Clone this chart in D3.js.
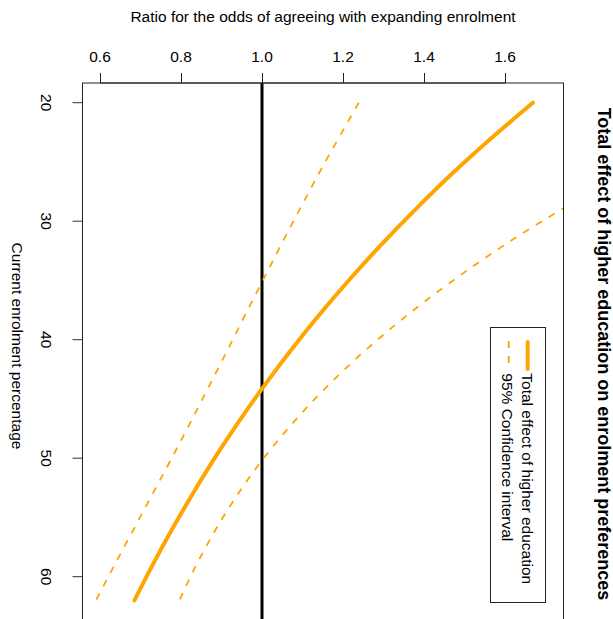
<!DOCTYPE html>
<html>
<head>
<meta charset="utf-8">
<script src="https://cdn.jsdelivr.net/npm/d3@7"></script>
<style>
  html, body { margin: 0; padding: 0; background: #fff; }
  svg { display: block; }
  text { font-family: "Liberation Sans", Arial, Helvetica, sans-serif; fill: #000; }
</style>
</head>
<body>
<svg id="chart" width="613" height="619"></svg>
<script>
// Current enrolment percentage (vertical axis)
const enrolment = [20, 23, 26, 29, 32, 35, 38, 41, 44, 47, 50, 53, 56, 59, 62];
// Estimated odds ratio: total effect of higher education
const effect = [1.669, 1.566, 1.469, 1.379, 1.294, 1.214, 1.139, 1.069, 1.003, 0.941, 0.883, 0.829, 0.778, 0.730, 0.685];
// 95% confidence bounds
const ciLower = [1.239, 1.189, 1.140, 1.093, 1.047, 1.002, 0.957, 0.913, 0.868, 0.823, 0.777, 0.730, 0.683, 0.636, 0.590];
const ciUpper = [2.248, 2.063, 1.894, 1.740, 1.599, 1.472, 1.356, 1.252, 1.159, 1.077, 1.004, 0.941, 0.886, 0.838, 0.796];
// Axis ticks
const ratioTicks = [0.6, 0.8, 1.0, 1.2, 1.4, 1.6];
const enrolTicks = [20, 30, 40, 50, 60];
// Reference line (no effect)
const noEffect = 1.0;
// Legend entries
const legendLabels = ["Total effect of higher education", "95% Confidence interval"];

const ORANGE = "#FFA500";
const FONT = "15.5px";
const svg = d3.select("#chart");

// Plot region
const box = { left: 82.5, right: 563.5, top: 83, bottom: 660 };

const x = d3.scaleLinear().domain([0.6, 1.6]).range([100, 505]);
const y = d3.scaleLinear().domain([20, 60]).range([102.7, 576.7]);

svg.append("defs").append("clipPath").attr("id", "plotClip")
  .append("rect")
  .attr("x", box.left).attr("y", box.top)
  .attr("width", box.right - box.left).attr("height", box.bottom - box.top);

const plot = svg.append("g").attr("clip-path", "url(#plotClip)");

// No-effect reference line
plot.append("line")
  .attr("x1", x(noEffect)).attr("x2", x(noEffect))
  .attr("y1", box.top).attr("y2", box.bottom)
  .attr("stroke", "#000").attr("stroke-width", 3);

const rows = enrolment.map((e, i) => ({ e, est: effect[i], lo: ciLower[i], hi: ciUpper[i] }));

const lineFor = key => d3.line()
  .x(d => x(d[key]))
  .y(d => y(d.e))
  .curve(d3.curveMonotoneY);

// Confidence interval
["lo", "hi"].forEach(k => {
  plot.append("path")
    .datum(rows)
    .attr("d", lineFor(k))
    .attr("fill", "none")
    .attr("stroke", ORANGE)
    .attr("stroke-width", 1.8)
    .attr("stroke-dasharray", "7,8");
});

// Estimated effect
plot.append("path")
  .datum(rows)
  .attr("d", lineFor("est"))
  .attr("fill", "none")
  .attr("stroke", ORANGE)
  .attr("stroke-width", 4)
  .attr("stroke-linecap", "round");

// Plot frame
svg.append("rect")
  .attr("x", box.left).attr("y", box.top)
  .attr("width", box.right - box.left).attr("height", box.bottom - box.top)
  .attr("fill", "none").attr("stroke", "#222").attr("stroke-width", 1);

// Top axis (odds ratio)
const topAxis = svg.append("g");
topAxis.append("line")
  .attr("x1", x(ratioTicks[0])).attr("x2", x(ratioTicks[ratioTicks.length - 1]))
  .attr("y1", box.top).attr("y2", box.top)
  .attr("stroke", "#222").attr("stroke-width", 1.2);
topAxis.selectAll("line.tick").data(ratioTicks).join("line")
  .attr("class", "tick")
  .attr("x1", d => Math.round(x(d)) + 0.5).attr("x2", d => Math.round(x(d)) + 0.5)
  .attr("y1", box.top).attr("y2", box.top - 10)
  .attr("stroke", "#222");
topAxis.selectAll("text").data(ratioTicks).join("text")
  .attr("x", d => x(d)).attr("y", 61.7)
  .attr("text-anchor", "middle")
  .style("font-size", FONT)
  .text(d3.format(".1f"));

svg.append("text")
  .attr("x", (box.left + box.right) / 2).attr("y", 22)
  .attr("text-anchor", "middle")
  .style("font-size", FONT)
  .text("Ratio for the odds of agreeing with expanding enrolment");

// Left axis (enrolment)
const leftAxis = svg.append("g");
leftAxis.append("line")
  .attr("x1", box.left).attr("x2", box.left)
  .attr("y1", y(enrolTicks[0])).attr("y2", y(enrolTicks[enrolTicks.length - 1]))
  .attr("stroke", "#222");
leftAxis.selectAll("line.tick").data(enrolTicks).join("line")
  .attr("class", "tick")
  .attr("x1", box.left).attr("x2", box.left - 10)
  .attr("y1", d => y(d)).attr("y2", d => y(d))
  .attr("stroke", "#333");
leftAxis.selectAll("text").data(enrolTicks).join("text")
  .attr("transform", d => `translate(41,${y(d)}) rotate(90)`)
  .attr("text-anchor", "middle")
  .style("font-size", FONT)
  .text(d => d);

svg.append("text")
  .attr("transform", "translate(11.5,346) rotate(90)")
  .attr("text-anchor", "middle")
  .style("font-size", FONT)
  .text("Current enrolment percentage");

// Title
svg.append("text")
  .attr("transform", "translate(598,354) rotate(90)")
  .attr("text-anchor", "middle")
  .style("font-size", "18px")
  .style("font-weight", "bold")
  .text("Total effect of higher education on enrolment preferences");

// Legend
const lg = svg.append("g");
lg.append("rect")
  .attr("x", 490.5).attr("y", 327.5).attr("width", 55).attr("height", 275)
  .attr("fill", "#fff").attr("stroke", "#222").attr("stroke-width", 1);
lg.append("line")
  .attr("x1", 527.7).attr("x2", 527.7).attr("y1", 342).attr("y2", 369)
  .attr("stroke", ORANGE).attr("stroke-width", 4).attr("stroke-linecap", "round");
lg.append("line")
  .attr("x1", 508.7).attr("x2", 508.7).attr("y1", 341).attr("y2", 371)
  .attr("stroke", ORANGE).attr("stroke-width", 1.8).attr("stroke-dasharray", "7,8");
lg.selectAll("text").data(legendLabels).join("text")
  .attr("transform", (d, i) => `translate(${i === 0 ? 521.9 : 502.2},373.3) rotate(90)`)
  .style("font-size", FONT)
  .text(d => d);
</script>
</body>
</html>
